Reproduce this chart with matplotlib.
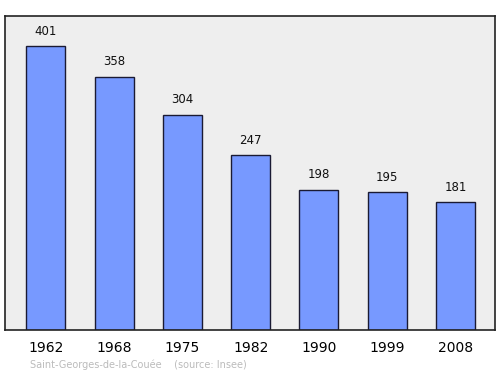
import matplotlib
matplotlib.use('Agg')
import matplotlib.pyplot as plt
import numpy as np

# population data
years = ['1962', '1968', '1975', '1982', '1990', '1999', '2008']
population = [401, 358, 304, 247, 198, 195, 181]

fig = plt.figure(figsize=(5, 3.74), dpi=100)
ax = fig.add_axes([5 / 500, 1 - 330 / 374, 490 / 500, 314 / 374])
ax.set_facecolor('#eeeeee')

x = np.arange(len(years))
ax.bar(x, population, width=0.57, color='#7799ff', edgecolor='#1a1a33', linewidth=1)

for i, v in enumerate(population):
    ax.annotate(str(v), (x[i], v), xytext=(0, 6), textcoords='offset points',
                ha='center', va='bottom', fontsize=8.5, color='#111111')

ax.set_xlim(-0.6, 6.58)
ax.set_ylim(0, 443.5)
ax.set_yticks([])
ax.set_xticks(x)
ax.set_xticklabels(years, fontsize=10)
ax.tick_params(axis='x', length=0, pad=8)
for s in ax.spines.values():
    s.set_linewidth(1.2)
    s.set_color('#222222')

fig.text(30 / 500, 1 - 365 / 374, 'Saint-Georges-de-la-Couée    (source: Insee)',
         fontsize=7, color='#bbbbbb', va='center', ha='left')

fig.savefig('out.png', dpi=100)
